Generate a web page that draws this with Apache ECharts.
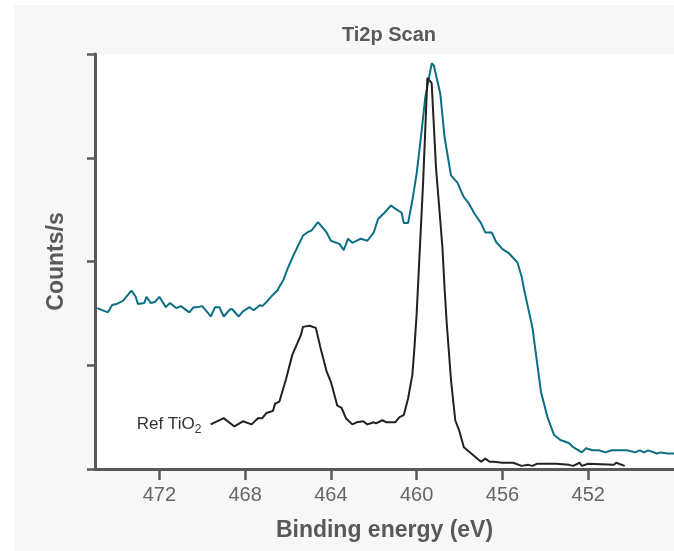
<!DOCTYPE html>
<html>
<head>
<meta charset="utf-8">
<script src="https://cdn.jsdelivr.net/npm/echarts@6/dist/echarts.min.js"></script>
<style>
  html, body { margin: 0; padding: 0; background: #fff; }
  #chart { width: 674px; height: 551px; }
</style>
</head>
<body>
<div id="chart"></div>
<script>
// Ti2p scan: sample (teal) and reference TiO2 (black)
const sampleEnergy = [474.9, 474.4, 474.2, 474.0, 473.7, 473.3, 473.1, 473.0, 472.7, 472.6, 472.4, 472.2, 472.0, 471.7, 471.5, 471.2, 471.0, 470.6, 470.4, 470.2, 470.0, 469.6, 469.4, 469.2, 469.0, 468.7, 468.6, 468.3, 468.1, 467.8, 467.6, 467.3, 467.2, 467.0, 466.7, 466.5, 466.2, 466.0, 465.7, 465.3, 465.1, 464.9, 464.6, 464.2, 464.0, 463.6, 463.4, 463.2, 463.0, 462.6, 462.3, 462.0, 461.8, 461.5, 461.2, 461.0, 460.7, 460.6, 460.4, 460.2, 460.0, 459.8, 459.6, 459.3, 459.2, 458.9, 458.7, 458.4, 458.1, 457.8, 457.6, 457.3, 457.0, 456.8, 456.5, 456.3, 456.0, 455.7, 455.3, 455.1, 455.0, 454.6, 454.4, 454.2, 453.9, 453.6, 453.3, 452.9, 452.7, 452.3, 452.1, 451.8, 451.5, 451.2, 450.9, 450.2, 449.8, 449.6, 449.4, 449.2, 448.8, 448.6, 448.3, 448.0];
const sampleCounts = [155, 151, 158, 159, 162, 172, 166, 159, 160, 166, 160, 161, 166, 156, 160, 155, 157, 151, 156, 156, 157, 147, 156, 156, 147, 154, 154, 147, 152, 156, 153, 158, 157, 161, 168, 172, 183, 194, 208, 225, 228, 230, 238, 228, 220, 217, 211, 222, 218, 222, 220, 228, 241, 247, 254, 251, 247, 237, 237, 259, 285, 320, 358, 391, 389, 362, 320, 283, 276, 262, 257, 246, 237, 228, 228, 219, 212, 208, 199, 185, 174, 136, 105, 74, 50, 33, 28, 25, 21, 16, 20, 18, 18, 16, 18, 18, 16, 18, 16, 18, 15, 16, 15, 15];

const refEnergy = [469.6, 469.0, 468.5, 468.1, 467.7, 467.4, 467.2, 467.0, 466.7, 466.6, 466.4, 466.1, 465.8, 465.4, 465.3, 465.0, 464.7, 464.5, 464.2, 464.0, 463.7, 463.5, 463.3, 463.0, 462.8, 462.5, 462.3, 462.0, 461.9, 461.6, 461.4, 461.0, 460.8, 460.6, 460.4, 460.2, 460.1, 460.0, 459.7, 459.5, 459.3, 459.1, 458.8, 458.7, 458.6, 458.4, 458.2, 458.0, 457.8, 457.4, 457.0, 456.8, 456.6, 456.4, 456.0, 455.5, 455.1, 454.8, 454.6, 454.4, 453.5, 452.9, 452.7, 452.4, 452.3, 452.0, 450.8, 450.7, 450.3];
const refCounts = [43, 49, 41, 46, 43, 49, 49, 54, 56, 63, 65, 86, 110, 129, 137, 138, 136, 118, 94, 84, 61, 59, 49, 43, 45, 46, 43, 45, 44, 47, 45, 45, 50, 52, 68, 91, 118, 150, 276, 377, 372, 291, 214, 175, 141, 86, 47, 36, 21, 14, 7, 10, 7, 7, 6, 6, 3, 4, 3, 5, 5, 4, 3, 6, 3, 5, 4, 6, 3];

const xTicks = [472, 468, 464, 460, 456, 452];

const axisColor = '#58595b';
const font = 'Liberation Sans, Arial, Helvetica, sans-serif';

const chart = echarts.init(document.getElementById('chart'));

const refData = refEnergy.map((e, i) => [e, refCounts[i]]);
// label the start of the reference curve
refData[0] = {
  value: refData[0],
  symbol: 'circle',
  symbolSize: 1,
  itemStyle: { color: 'rgba(0,0,0,0)' },
  label: {
    show: true,
    position: 'left',
    distance: 9,
    formatter: '{a|Ref TiO}{s|2}',
    rich: {
      a: { fontSize: 17, color: '#333', fontFamily: font },
      s: { fontSize: 12, color: '#333', fontFamily: font, padding: [10, 0, 0, 0] }
    }
  }
};

chart.setOption({
  backgroundColor: '#fff',
  animation: false,
  graphic: [{
    type: 'rect', z: -100, silent: true,
    shape: { x: 14, y: 5, width: 660, height: 546 },
    style: { fill: '#f7f7f7' }
  }],
  title: {
    text: 'Ti2p Scan',
    left: 384, top: 20, textAlign: 'center',
    textStyle: { fontSize: 20, fontWeight: 'bold', color: axisColor, fontFamily: font }
  },
  grid: {
    left: 95, right: 0, top: 54, bottom: 82,
    show: true, backgroundColor: '#fff', borderWidth: 0
  },
  xAxis: {
    type: 'value', inverse: true, min: 448, max: 475,
    name: 'Binding energy (eV)', nameLocation: 'middle', nameGap: 50,
    nameTextStyle: { fontSize: 23, fontWeight: 'bold', color: axisColor, fontFamily: font },
    axisLine: { show: true, lineStyle: { color: axisColor, width: 3 } },
    axisTick: { show: true, customValues: xTicks, length: 11, lineStyle: { color: axisColor, width: 2.5 } },
    axisLabel: { customValues: xTicks, fontSize: 20, color: '#666', margin: 16, fontFamily: font },
    splitLine: { show: false }
  },
  yAxis: {
    type: 'value', min: 0, max: 400, interval: 100,
    name: 'Counts/s', nameLocation: 'middle', nameGap: 27,
    nameTextStyle: { fontSize: 23, fontWeight: 'bold', color: axisColor, fontFamily: font },
    axisLine: { show: true, lineStyle: { color: axisColor, width: 3 } },
    axisTick: { show: true, length: 8, lineStyle: { color: axisColor, width: 2.5 } },
    axisLabel: { show: false },
    splitLine: { show: false }
  },
  series: [
    {
      name: 'Sample', type: 'line', symbol: 'none',
      data: sampleEnergy.map((e, i) => [e, sampleCounts[i]]),
      lineStyle: { color: '#0b6f84', width: 2 }
    },
    {
      name: 'Ref TiO2', type: 'line', symbol: 'none', showSymbol: true,
      data: refData,
      lineStyle: { color: '#222', width: 2 }
    }
  ]
});
</script>
</body>
</html>
